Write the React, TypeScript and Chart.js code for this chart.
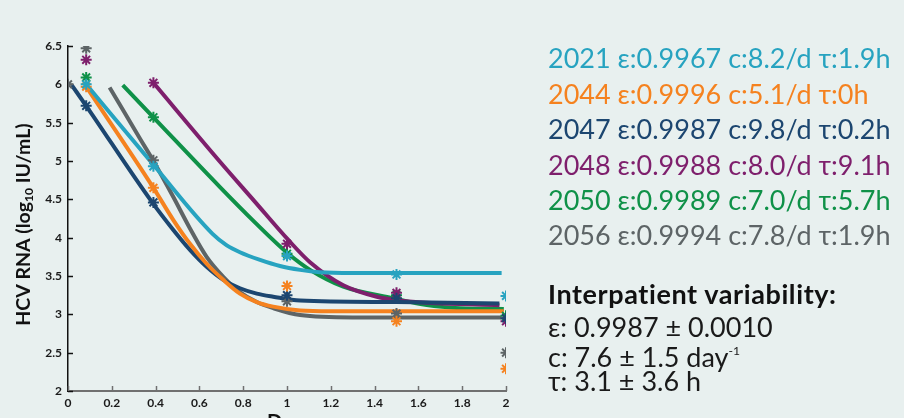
import React, { useEffect, useRef } from 'react';
import { Chart, registerables } from 'chart.js';
Chart.register(...registerables);

const patientIds = ['2021', '2044', '2047', '2048', '2050', '2056'];
const seriesColors = ['#27a3c0', '#f5821f', '#1c4670', '#7e1f6c', '#0f9148', '#5d6466'];
const epsilonValues = ['0.9967', '0.9996', '0.9987', '0.9988', '0.9989', '0.9994'];
const clearanceValues = ['8.2', '5.1', '9.8', '8.0', '7.0', '7.8'];
const delayValues = ['1.9', '0', '0.2', '9.1', '5.7', '1.9'];

// Observed viral loads (stars)
const obs2021Days = [0.083, 0.39, 1, 1.5, 2];
const obs2021Log = [6.0, 4.93, 3.76, 3.52, 3.24];
const obs2044Days = [0.083, 0.39, 1, 1.5, 2];
const obs2044Log = [5.97, 4.65, 3.37, 2.91, 2.29];
const obs2047Days = [0.083, 0.39, 1, 1.5, 2];
const obs2047Log = [5.72, 4.46, 3.25, 3.21, 2.95];
const obs2048Days = [0.083, 0.39, 1, 1.5, 2];
const obs2048Log = [6.32, 6.02, 3.92, 3.28, 2.91];
const obs2050Days = [0.083, 0.39, 1, 1.5, 2];
const obs2050Log = [6.09, 5.57, 3.79, 3.25, 2.98];
const obs2056Days = [0, 0.083, 0.39, 1, 1.5, 2];
const obs2056Log = [6.0, 6.47, 5.01, 3.17, 3.01, 2.5];

// Model fits (curves)
const fit2021Days = [0.083, 0.39, 0.66, 0.725, 0.785, 0.877, 0.968, 1.06, 1.15, 1.3, 1.98];
const fit2021Log = [6.0, 4.95, 4.05, 3.9, 3.81, 3.71, 3.63, 3.58, 3.55, 3.54, 3.54];
const fit2044Days = [0.083, 0.39, 0.481, 0.557, 0.633, 0.709, 0.785, 0.862, 0.937, 1.06, 1.2, 1.99];
const fit2044Log = [5.97, 4.65, 4.23, 3.92, 3.66, 3.45, 3.27, 3.16, 3.1, 3.05, 3.04, 3.04];
const fit2047Days = [0.017, 0.083, 0.382, 0.481, 0.557, 0.633, 0.709, 0.785, 0.862, 0.937, 1.06, 1.5, 1.97];
const fit2047Log = [5.99, 5.72, 4.47, 4.1, 3.84, 3.62, 3.45, 3.34, 3.27, 3.23, 3.18, 3.16, 3.14];
const fit2048Days = [0.39, 0.694, 0.85, 1.006, 1.105, 1.257, 1.41, 1.516, 1.638, 1.97];
const fit2048Log = [6.02, 4.99, 4.48, 3.97, 3.68, 3.38, 3.23, 3.18, 3.15, 3.12];
const fit2050Days = [0.25, 0.39, 0.694, 0.85, 1.006, 1.105, 1.257, 1.486, 1.638, 1.79, 1.99];
const fit2050Log = [5.99, 5.57, 4.66, 4.21, 3.79, 3.58, 3.36, 3.21, 3.12, 3.08, 3.07];
const fit2056Days = [0.19, 0.329, 0.39, 0.481, 0.557, 0.633, 0.709, 0.785, 0.862, 0.937, 1.06, 1.3, 1.98];
const fit2056Log = [5.96, 5.29, 5.0, 4.53, 4.12, 3.75, 3.49, 3.29, 3.16, 3.08, 2.99, 2.96, 2.96];

const obsDays = [obs2021Days, obs2044Days, obs2047Days, obs2048Days, obs2050Days, obs2056Days];
const obsLog = [obs2021Log, obs2044Log, obs2047Log, obs2048Log, obs2050Log, obs2056Log];
const fitDays = [fit2021Days, fit2044Days, fit2047Days, fit2048Days, fit2050Days, fit2056Days];
const fitLog = [fit2021Log, fit2044Log, fit2047Log, fit2048Log, fit2050Log, fit2056Log];

const BG = '#e8f0ef';
const FONT = 'Lato, "Noto Sans", sans-serif';

const toPoints = (xs: number[], ys: number[]) => xs.map((x, i) => ({ x, y: ys[i] }));
const fmtTick = (v: any) => String(Math.round(Number(v) * 10) / 10);

const decorPlugin = {
  id: 'decor',
  beforeDatasetsDraw(chart: any) {
    const { ctx, chartArea: ca, scales } = chart;
    ctx.save();
    ctx.lineWidth = 1.5;
    ctx.strokeStyle = '#111';
    scales.y.ticks.forEach((t: any) => {
      const py = Math.round(scales.y.getPixelForValue(t.value)) + 0.5;
      ctx.beginPath();
      ctx.moveTo(ca.left, py);
      ctx.lineTo(ca.left + 5, py);
      ctx.stroke();
    });
    ctx.strokeStyle = '#707070';
    scales.x.ticks.forEach((t: any) => {
      const px = Math.round(scales.x.getPixelForValue(t.value)) + 0.5;
      ctx.beginPath();
      ctx.moveTo(px, ca.bottom);
      ctx.lineTo(px, ca.bottom - 5);
      ctx.stroke();
    });
    ctx.restore();
  },
  afterDraw(chart: any) {
    const { ctx, chartArea: ca } = chart;
    ctx.save();
    ctx.fillStyle = '#111';
    // X title
    ctx.font = `bold 20px ${FONT}`;
    ctx.textAlign = 'center';
    ctx.textBaseline = 'alphabetic';
    ctx.fillText('Days', (ca.left + ca.right) / 2 + 2, 429);
    // Y title with subscript
    const cy = (ca.top + ca.bottom) / 2 + 6;
    ctx.translate(24, cy);
    ctx.rotate(-Math.PI / 2);
    const mainFont = `bold 19.5px ${FONT}`;
    const subFont = `bold 12px ${FONT}`;
    const parts = [
      { t: 'HCV RNA (log', f: mainFont, dy: 0 },
      { t: '10', f: subFont, dy: 5 },
      { t: ' IU/mL)', f: mainFont, dy: 0 },
    ];
    let total = 0;
    parts.forEach((p) => {
      ctx.font = p.f;
      total += ctx.measureText(p.t).width;
    });
    let x = -total / 2;
    ctx.textAlign = 'left';
    ctx.textBaseline = 'middle';
    parts.forEach((p) => {
      ctx.font = p.f;
      ctx.fillText(p.t, x, p.dy);
      x += ctx.measureText(p.t).width;
    });
    ctx.restore();
  },
};

function ChartCanvas() {
  const ref = useRef<HTMLCanvasElement | null>(null);
  useEffect(() => {
    if (!ref.current) return;
    const datasets: any[] = [];
    patientIds.forEach((id, i) => {
      datasets.push({
        label: id + ' data',
        data: toPoints(obsDays[i], obsLog[i]),
        showLine: false,
        pointStyle: 'star',
        pointRadius: 5.5,
        pointBorderWidth: 2,
        borderColor: seriesColors[i],
        backgroundColor: seriesColors[i],
        order: 0,
      });
    });
    patientIds.forEach((id, i) => {
      datasets.push({
        label: id + ' fit',
        data: toPoints(fitDays[i], fitLog[i]),
        borderColor: seriesColors[i],
        backgroundColor: seriesColors[i],
        borderWidth: 4,
        pointRadius: 0,
        cubicInterpolationMode: 'monotone',
        tension: 0.4,
        order: 1,
      });
    });
    const chart = new Chart(ref.current, {
      type: 'line',
      data: { datasets },
      options: {
        animation: false,
        responsive: false,
        devicePixelRatio: 1,
        layout: { padding: { left: 0, top: 46, right: 398, bottom: 0 } },
        plugins: { legend: { display: false }, tooltip: { enabled: false } },
        scales: {
          x: {
            type: 'linear',
            min: 0,
            max: 2,
            ticks: { stepSize: 0.2, color: '#1a1a1a', font: { family: FONT, size: 12, weight: 'bold' }, padding: 5, callback: fmtTick },
            grid: { display: false, drawTicks: false },
            border: { display: true, color: '#707070', width: 2 },
            afterFit: (s: any) => { s.height = 27; },
          },
          y: {
            type: 'linear',
            min: 2,
            max: 6.5,
            ticks: { stepSize: 0.5, color: '#1a1a1a', font: { family: FONT, size: 12, weight: 'bold' }, padding: 6, callback: fmtTick },
            grid: { display: false, drawTicks: false },
            border: { display: true, color: '#111', width: 1.5 },
            afterFit: (s: any) => { s.width = 68; },
          },
        },
      },
      plugins: [decorPlugin],
    } as any);
    return () => chart.destroy();
  }, []);
  return <canvas ref={ref} width={904} height={418} style={{ position: 'absolute', left: 0, top: 0 }} />;
}

const legendFont = 27;
const legendTops = [44, 80, 115, 151, 186, 221];

export default function App() {
  return (
    <div style={{ position: 'fixed', left: 0, top: 0, width: 904, height: 418, background: BG, overflow: 'hidden', fontFamily: FONT }}>
      <ChartCanvas />
      {patientIds.map((id, i) => (
        <div key={id} style={{ position: 'absolute', left: 548, top: legendTops[i], fontSize: legendFont, lineHeight: 1, color: seriesColors[i], whiteSpace: 'nowrap' }}>
          {`${id} ε:${epsilonValues[i]} c:${clearanceValues[i]}/d τ:${delayValues[i]}h`}
        </div>
      ))}
      <div style={{ position: 'absolute', left: 548, top: 280, fontSize: 27, letterSpacing: 0.6, lineHeight: 1, fontWeight: 'bold', color: '#111', whiteSpace: 'nowrap' }}>
        Interpatient variability:
      </div>
      <div style={{ position: 'absolute', left: 548, top: 313, fontSize: 27, lineHeight: 1, color: '#1a1a1a', whiteSpace: 'nowrap' }}>
        ε: 0.9987 ± 0.0010
      </div>
      <div style={{ position: 'absolute', left: 548, top: 343, fontSize: 27, lineHeight: 1, color: '#1a1a1a', whiteSpace: 'nowrap' }}>
        c: 7.6 ± 1.5 day<sup style={{ fontSize: '0.45em', verticalAlign: 'top', position: 'relative', top: 2 }}>-1</sup>
      </div>
      <div style={{ position: 'absolute', left: 548, top: 367, fontSize: 27, lineHeight: 1, color: '#1a1a1a', whiteSpace: 'nowrap' }}>
        τ: 3.1 ± 3.6 h
      </div>
    </div>
  );
}
